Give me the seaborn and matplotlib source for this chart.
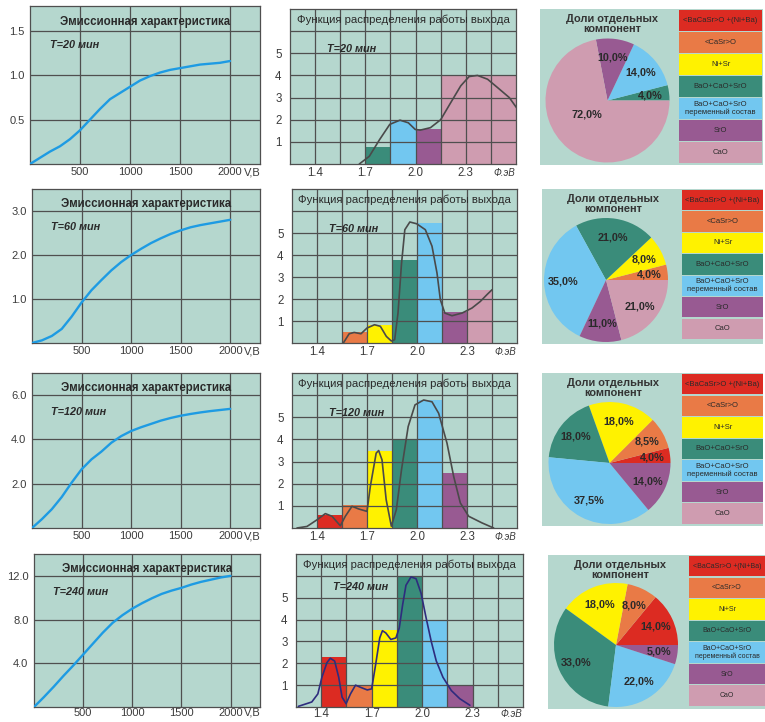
import numpy as np
import pandas as pd
import matplotlib
matplotlib.use("Agg")
import matplotlib.pyplot as plt
import matplotlib.transforms as mtransforms
from matplotlib.patches import Rectangle
import seaborn as sns

# ---------------- data ----------------
time_labels = ["T=20 мин", "T=60 мин", "T=120 мин", "T=240 мин"]

voltage = [0, 100, 200, 300, 400, 500, 600, 700, 800, 900, 1000,
           1100, 1200, 1300, 1400, 1500, 1600, 1700, 1800, 1900, 2000]
emission_20 = [0, 0.07, 0.14, 0.20, 0.28, 0.38, 0.50, 0.62, 0.73, 0.80, 0.87,
               0.94, 0.99, 1.03, 1.06, 1.08, 1.10, 1.12, 1.13, 1.14, 1.16]
emission_60 = [0, 0.06, 0.16, 0.32, 0.60, 0.92, 1.20, 1.43, 1.65, 1.84, 2.00,
               2.14, 2.27, 2.38, 2.48, 2.56, 2.63, 2.68, 2.72, 2.76, 2.80]
emission_120 = [0, 0.40, 0.85, 1.40, 2.05, 2.65, 3.10, 3.45, 3.85, 4.15, 4.38,
                4.55, 4.70, 4.85, 4.97, 5.07, 5.15, 5.22, 5.28, 5.33, 5.38]
emission_240 = [0, 0.90, 1.85, 2.85, 3.80, 4.80, 5.80, 6.80, 7.70, 8.40, 9.00,
                9.50, 9.95, 10.35, 10.65, 10.90, 11.20, 11.45, 11.65, 11.85, 12.00]
emission_yticks = [[0.5, 1.0, 1.5], [1.0, 2.0, 3.0], [2.0, 4.0, 6.0], [4.0, 8.0, 12.0]]
emission_ymax = [1.78, 3.5, 7.0, 14.0]
voltage_ticks = [500, 1000, 1500, 2000]

component_labels = ["<BaCaSr>O +(Ni+Ba)", "<CaSr>O", "Ni+Sr", "BaO+CaO+SrO",
                    "BaO+CaO+SrO\nпеременный состав", "SrO", "CaO"]
component_colors = ["#dc2b22", "#e97a46", "#fff200", "#3a8c7a",
                    "#72c7f0", "#985a92", "#cf9cb0"]

shares_20 = [0, 0, 0, 4.0, 14.0, 10.0, 72.0]
shares_60 = [0, 4.0, 8.0, 21.0, 35.0, 11.0, 21.0]
shares_120 = [4.0, 8.5, 18.0, 18.0, 37.5, 14.0, 0]
shares_240 = [14.0, 8.0, 18.0, 33.0, 22.0, 5.0, 0]

# work-function histogram bars: component index, left edge, width, height
bar_comp_20 = [3, 4, 5, 6]
bar_left_20 = [1.70, 1.85, 2.00, 2.15]
bar_width_20 = [0.15, 0.15, 0.15, 0.45]
bar_height_20 = [0.76, 1.98, 1.59, 4.0]

bar_comp_60 = [1, 2, 3, 4, 5, 6]
bar_left_60 = [1.55, 1.70, 1.85, 2.00, 2.15, 2.30]
bar_width_60 = [0.15, 0.15, 0.15, 0.15, 0.15, 0.15]
bar_height_60 = [0.50, 0.83, 3.76, 5.45, 1.42, 2.42]

bar_comp_120 = [0, 1, 2, 3, 4, 5]
bar_left_120 = [1.40, 1.55, 1.70, 1.85, 2.00, 2.15]
bar_width_120 = [0.15, 0.15, 0.15, 0.15, 0.15, 0.15]
bar_height_120 = [0.60, 1.02, 3.50, 4.00, 5.78, 2.50]

bar_comp_240 = [0, 1, 2, 3, 4, 5]
bar_left_240 = [1.40, 1.55, 1.70, 1.85, 2.00, 2.15]
bar_width_240 = [0.15, 0.15, 0.15, 0.15, 0.15, 0.15]
bar_height_240 = [2.29, 1.00, 3.52, 6.00, 4.00, 1.00]

# distribution curves
phi_20 = [1.664, 1.724, 1.785, 1.846, 1.907, 1.957, 1.998, 2.028, 2.089, 2.150,
          2.210, 2.270, 2.320, 2.370, 2.430, 2.490, 2.560, 2.610]
dist_20 = [0.0, 0.35, 1.10, 1.79, 1.98, 1.86, 1.56, 1.53, 1.64, 2.00,
           2.77, 3.53, 3.95, 4.00, 3.83, 3.45, 3.00, 2.47]

phi_60 = [1.558, 1.593, 1.623, 1.664, 1.700, 1.745, 1.780, 1.816, 1.846, 1.866,
          1.886, 1.907, 1.927, 1.957, 1.998, 2.050, 2.090, 2.120, 2.140, 2.167,
          2.210, 2.270, 2.330, 2.380, 2.420, 2.450]
dist_60 = [0.0, 0.42, 0.48, 0.42, 0.68, 0.83, 0.76, 0.30, 0.09, 0.15,
           1.36, 3.60, 5.15, 5.50, 5.42, 5.15, 4.40, 3.18, 1.97, 1.36,
           1.24, 1.36, 1.59, 1.89, 2.20, 2.42]

phi_120 = [1.280, 1.340, 1.400, 1.450, 1.490, 1.540, 1.570, 1.610, 1.650, 1.700,
           1.720, 1.755, 1.770, 1.790, 1.815, 1.846, 1.876, 1.907, 1.947, 1.988,
           2.040, 2.090, 2.130, 2.180, 2.220, 2.260, 2.310, 2.390, 2.460]
dist_120 = [0.0, 0.07, 0.37, 0.65, 0.53, 0.10, 0.53, 0.98, 0.86, 0.75,
            1.88, 3.38, 3.50, 3.08, 1.28, 0.08, 0.83, 2.63, 4.58, 5.56,
            5.78, 5.70, 5.18, 3.83, 2.33, 1.13, 0.53, 0.23, 0.0]

phi_240 = [1.264, 1.344, 1.380, 1.404, 1.434, 1.454, 1.480, 1.504, 1.524, 1.548,
           1.574, 1.604, 1.634, 1.674, 1.700, 1.724, 1.748, 1.764, 1.784, 1.814,
           1.844, 1.864, 1.884, 1.904, 1.934, 1.964, 1.994, 2.024, 2.054, 2.084,
           2.124, 2.174, 2.224, 2.284]
dist_240 = [0.03, 0.23, 0.60, 1.36, 2.03, 2.23, 2.10, 1.36, 0.45, 0.15,
            0.60, 1.00, 0.90, 0.78, 0.83, 1.96, 3.16, 3.49, 3.39, 3.09,
            3.16, 3.61, 4.67, 5.57, 5.95, 5.87, 5.20, 4.07, 3.01, 2.11,
            1.36, 0.75, 0.38, 0.08]

phi_ticks = [1.4, 1.7, 2.0, 2.3]
dist_yticks = [1, 2, 3, 4, 5]

emissions = [emission_20, emission_60, emission_120, emission_240]
shares = [shares_20, shares_60, shares_120, shares_240]
bars = [(bar_comp_20, bar_left_20, bar_width_20, bar_height_20),
        (bar_comp_60, bar_left_60, bar_width_60, bar_height_60),
        (bar_comp_120, bar_left_120, bar_width_120, bar_height_120),
        (bar_comp_240, bar_left_240, bar_width_240, bar_height_240)]
curves = [(phi_20, dist_20), (phi_60, dist_60), (phi_120, dist_120), (phi_240, dist_240)]

# ---------------- layout (pixels) ----------------
W, H = 765, 722
left_boxes = [(30, 6, 260, 164), (32, 189, 260, 343), (32, 373, 260, 528), (34, 554, 260, 707)]
mid_boxes = [(290, 9, 516, 164), (292, 189, 517, 343), (292, 373, 517, 528), (296, 554, 523, 707)]
right_boxes = [(540, 9, 763, 165), (542, 189, 763, 344), (542, 373, 763, 526), (548, 555, 765, 709)]
pie_geo = [(607.5, 100.5, 62), (606, 280, 62), (609.5, 463, 61), (616, 645, 62)]
legend_boxes = [(679, 10, 762, 164), (682, 190, 763, 340), (682, 374, 763, 525), (689, 556, 765, 707)]
legend_fontsize = [5.5, 5.5, 5.5, 5.05]
pie_title_pos = [(612, 24), (613, 204), (613, 388), (620, 570)]
curve_colors = ["#4a4a4a", "#4a4a4a", "#4a4a4a", "#2e2c7e"]
t_mid_pos = [5.2, 5.2, 5.2, 5.5]
xtick_pad = [2.5, 2.5, 2.5, 0.6]

BG = "#b5d7ce"
GRID = "#4f4f4f"
TXT = "#2a2a2a"
TICK = "#3c3c3c"

sns.set_theme(style="white")
plt.rcParams['font.family'] = ['Liberation Sans', 'DejaVu Sans']

fig = plt.figure(figsize=(W / 100, H / 100), dpi=100)
fig.patch.set_facecolor("white")


def add_ax(box):
    x0, y0, x1, y1 = box
    return fig.add_axes([x0 / W, 1 - y1 / H, (x1 - x0) / W, (y1 - y0) / H])


def style_spines(ax):
    for s in ax.spines.values():
        s.set_visible(True)
        s.set_color(GRID)
        s.set_linewidth(0.9)


for i in range(4):
    # ---------- emission characteristic ----------
    ax = add_ax(left_boxes[i])
    ax.set_facecolor(BG)
    style_spines(ax)
    for xv in voltage_ticks:
        ax.axvline(xv, color=GRID, lw=0.9, zorder=1)
    for yv in emission_yticks[i]:
        ax.axhline(yv, color=GRID, lw=0.9, zorder=1)
    df = pd.DataFrame({"V": voltage, "I": emissions[i]})
    sns.lineplot(data=df, x="V", y="I", ax=ax, color="#1e9be3", lw=1.7, zorder=3)
    ax.set_xlim(0, 2300)
    ax.set_ylim(0, emission_ymax[i])
    ax.set_xticks(voltage_ticks)
    ax.set_xticklabels([str(v) for v in voltage_ticks])
    ax.set_yticks(emission_yticks[i])
    ax.set_yticklabels([f"{v:.1f}" for v in emission_yticks[i]])
    ax.tick_params(length=0, labelsize=8, colors=TICK)
    ax.tick_params(axis="x", pad=xtick_pad[i])
    ax.tick_params(axis="y", pad=4)
    ax.set_xlabel("")
    ax.set_ylabel("")
    trans = mtransforms.blended_transform_factory(ax.transData, ax.transAxes)
    ax.annotate("V,B", xy=(2000, 0), xycoords=trans, xytext=(10, -xtick_pad[i]),
                textcoords="offset points", ha="left", va="top", fontsize=8,
                color=TICK, annotation_clip=False)
    ax.text(0.5, 0.9, "Эмиссионная характеристика", transform=ax.transAxes,
            ha="center", va="center", fontsize=8.3, fontweight="bold", color=TXT)
    ax.text(0.085, 0.75, time_labels[i], transform=ax.transAxes, ha="left",
            va="center", fontsize=7.8, fontweight="bold", fontstyle="italic", color=TXT)

    # ---------- work function distribution ----------
    ax = add_ax(mid_boxes[i])
    ax.set_facecolor(BG)
    style_spines(ax)
    comp, lefts, widths, heights = bars[i]
    ax.bar(lefts, heights, width=widths, align="edge",
           color=[component_colors[c] for c in comp], linewidth=0, zorder=1)
    for k in range(8):
        ax.axvline(1.4 + 0.15 * k, color=GRID, lw=0.9, zorder=2)
    for k in range(1, 7):
        ax.axhline(k, color=GRID, lw=0.9, zorder=2)
    dfc = pd.DataFrame({"phi": curves[i][0], "f": curves[i][1]})
    sns.lineplot(data=dfc, x="phi", y="f", ax=ax, color=curve_colors[i], lw=1.2,
                 zorder=4, sort=False)
    ax.set_xlim(1.25, 2.6)
    ax.set_ylim(0, 7)
    ax.set_xticks(phi_ticks)
    ax.set_xticklabels([f"{v:.1f}" for v in phi_ticks])
    ax.set_yticks(dist_yticks)
    ax.set_yticklabels([str(v) for v in dist_yticks])
    ax.tick_params(length=0, labelsize=8.3, colors=TICK)
    ax.tick_params(axis="y", pad=6)
    ax.tick_params(axis="x", pad=xtick_pad[i])
    ax.set_xlabel("")
    ax.set_ylabel("")
    trans = mtransforms.blended_transform_factory(ax.transAxes, ax.transAxes)
    ax.annotate("Ф.эВ", xy=(0.995, 0), xycoords=trans, xytext=(0, -xtick_pad[i] - 0.5),
                textcoords="offset points", ha="right", va="top", fontsize=7,
                fontstyle="italic", color=TICK, annotation_clip=False)
    ax.text(1.925, 6.5, "Функция распределения работы выхода", ha="center",
            va="center", fontsize=8.2, color=TXT, zorder=5)
    ax.text(1.47, t_mid_pos[i], time_labels[i], ha="left", va="center",
            fontsize=7.8, fontweight="bold", fontstyle="italic", color=TXT, zorder=5)

    # ---------- component shares ----------
    bx = right_boxes[i]
    axr = add_ax(bx)
    axr.set_facecolor(BG)
    axr.set_xlim(bx[0], bx[2])
    axr.set_ylim(bx[3], bx[1])
    axr.set_xticks([])
    axr.set_yticks([])
    for s in axr.spines.values():
        s.set_visible(False)

    lx0, ly0, lx1, ly1 = legend_boxes[i]
    bh = (ly1 - ly0) / 7
    for k, (lab, col) in enumerate(zip(component_labels, component_colors)):
        axr.add_patch(Rectangle((lx0, ly0 + k * bh), lx1 - lx0, bh - 1.2,
                                facecolor=col, edgecolor="none", zorder=2))
        axr.text((lx0 + lx1) / 2, ly0 + k * bh + bh / 2 - 0.6, lab, ha="center",
                 va="center", fontsize=legend_fontsize[i], color=TXT, zorder=3,
                 linespacing=1.1)
    tx, ty = pie_title_pos[i]
    axr.text(tx, ty, "Доли отдельных\nкомпонент", ha="center", va="center",
             fontsize=7.9, fontweight="bold", color="#333333", linespacing=1.05, zorder=5)

    cx, cy, r = pie_geo[i]
    axp = add_ax((cx - r, cy - r, cx + r, cy + r))
    vals = [v for v in shares[i] if v > 0]
    cols = [component_colors[k] for k, v in enumerate(shares[i]) if v > 0]
    wedges, texts, autotexts = axp.pie(
        vals, colors=cols, startangle=0, counterclock=True, radius=1.0,
        autopct=lambda p: f"{p:.1f}%".replace(".", ","), pctdistance=0.7,
        wedgeprops=dict(linewidth=0), textprops=dict(fontsize=7.8, fontweight="bold",
                                                   color=TXT))
    for v, w, t in zip(vals, wedges, autotexts):
        if v > 50:
            ang = np.deg2rad((w.theta1 + w.theta2) / 2 - 17)
            t.set_position((0.4 * np.cos(ang), 0.4 * np.sin(ang)))
    axp.set_xlim(-1, 1)
    axp.set_ylim(-1, 1)
    axp.set_aspect("auto")
    axp.axis("off")
    axp.patch.set_alpha(0)

fig.savefig("out.png", dpi=100, facecolor="white")
